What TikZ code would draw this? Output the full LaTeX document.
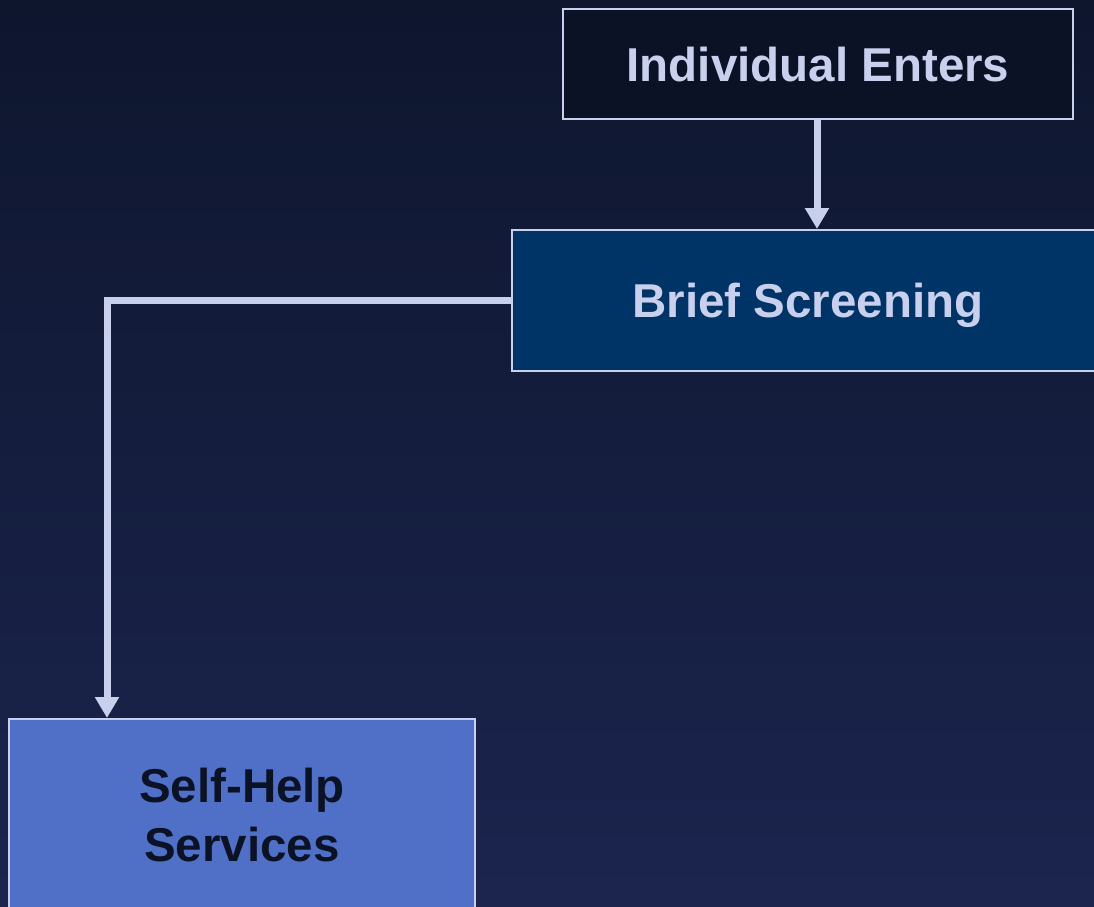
\documentclass[tikz,border=0pt]{standalone}
\usepackage{fontspec}
\setmainfont{Liberation Sans}
\usetikzlibrary{arrows.meta}
\definecolor{bgtop}{RGB}{14,22,46}
\definecolor{bgbot}{RGB}{27,37,78}
\definecolor{edge}{RGB}{200,208,238}
\definecolor{darkfill}{RGB}{12,18,38}
\definecolor{navyfill}{RGB}{0,51,102}
\definecolor{bluefill}{RGB}{80,112,200}
\tikzset{
  box/.style={draw=edge, line width=2pt, rectangle, align=center, font=\fontsize{47.5}{59}\selectfont\bfseries, inner sep=0pt},
  flow/.style={draw=edge, line width=7pt, line join=miter, -{Triangle[width=23pt,length=21pt]}}
}
\begin{document}
\begin{tikzpicture}[x=1pt,y=-1pt]
\useasboundingbox (0,0) rectangle (1094,906);
\shade[top color=bgtop, bottom color=bgbot] (0,0) rectangle (1094,906);
\clip (0,0) rectangle (1094,906);
\node[box, fill=darkfill, text=edge, minimum width=510pt, minimum height=110pt, text depth=0pt] (enter) at (818,64) {Individual Enters};
\node[box, fill=navyfill, text=edge, minimum width=592pt, minimum height=141pt, text depth=0pt] (screen) at (808,300.5) {Brief Screening};
\node[box, fill=bluefill, text=darkfill, minimum width=466pt, minimum height=192pt] (self) at (242,815) {Self-Help\\Services};
\coordinate (drop) at (107,0);
\draw[flow] ([xshift=-1pt]enter.south) -- ([xshift=-1pt]enter.south |- screen.north);
\draw[flow] (screen.west) -| (drop |- self.north);
\end{tikzpicture}
\end{document}
